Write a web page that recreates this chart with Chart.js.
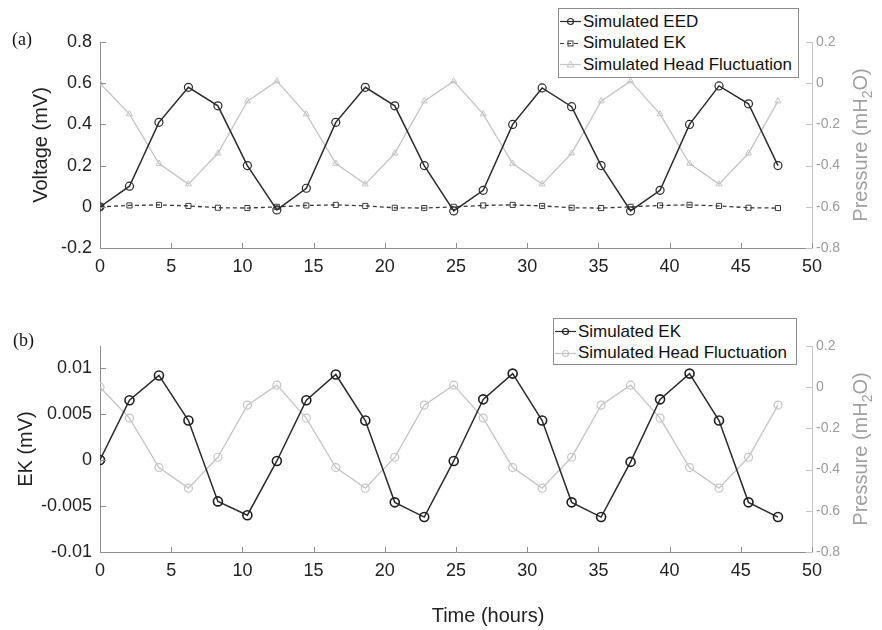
<!DOCTYPE html>
<html>
<head>
<meta charset="utf-8">
<script src="https://cdn.jsdelivr.net/npm/chart.js@4.4.1/dist/chart.umd.min.js"></script>
<style>
  body { margin: 0; background: #fff; font-family: "Liberation Sans", Arial, sans-serif; }
  #page { position: relative; width: 882px; height: 630px; overflow: hidden; }
  canvas { position: absolute; left: 0; }
  .tag { position: absolute; font: 18px/1 "Liberation Serif", "Times New Roman", serif; color: #111; }
  .ytitle2 { position: absolute; font-size: 20px; line-height: 1; color: #a0a0a0; white-space: nowrap;
             transform: translate(-50%, -50%) rotate(-90deg); }
  .ytitle2 sub { font-size: 14px; line-height: 0; }
  .xtitle { position: absolute; font-size: 20px; line-height: 1; color: #222; white-space: nowrap; transform: translateX(-50%); }
  .legend { position: absolute; box-sizing: border-box; border: 1px solid #8c8c8c; background: #fff;
            font-size: 17px; color: #111; padding-top: 2px; }
  .legend .row { height: 21.5px; display: flex; align-items: center; white-space: nowrap; }
  .legend svg { margin: 0 2px 0 1px; flex: none; }
</style>
</head>
<body>
<div id="page">
  <canvas id="chartA" width="882" height="290" style="top:0"></canvas>
  <canvas id="chartB" width="882" height="340" style="top:290px"></canvas>
  <div class="tag" style="left:12px; top:30px">(a)</div>
  <div class="tag" style="left:13px; top:331px">(b)</div>
  <div class="ytitle2" style="left:860px; top:145px">Pressure (mH<sub>2</sub>O)</div>
  <div class="ytitle2" style="left:860px; top:449px">Pressure (mH<sub>2</sub>O)</div>
  <div class="xtitle" style="left:488px; top:605px">Time (hours)</div>
  <div class="legend" id="legendA" style="left:558px; top:8px; width:241px; height:70px"></div>
  <div class="legend" id="legendB" style="left:553px; top:318px; width:244px; height:47px"></div>
</div>
<script>
// sample times (hours) and simulated series
const TIME = [0, 2.07, 4.14, 6.21, 8.28, 10.35, 12.42, 14.49, 16.56, 18.63, 20.7, 22.77,
  24.84, 26.91, 28.98, 31.05, 33.12, 35.19, 37.26, 39.33, 41.4, 43.47, 45.54, 47.61];
const EED = [0, 0.1, 0.41, 0.58, 0.49, 0.2, -0.015, 0.09, 0.41, 0.58, 0.49, 0.2,
  -0.02, 0.08, 0.4, 0.577, 0.486, 0.2, -0.02, 0.08, 0.4, 0.587, 0.5, 0.2];
const EK = [0, 0.0065, 0.0092, 0.0043, -0.0045, -0.006, -0.0001, 0.0065, 0.0093, 0.0043, -0.0046, -0.0062,
  -0.0001, 0.0066, 0.0094, 0.0043, -0.0046, -0.0062, -0.0002, 0.0066, 0.0094, 0.0043, -0.0046, -0.0062];
const HEAD = [0, -0.15, -0.39, -0.49, -0.34, -0.087, 0.01, -0.15, -0.39, -0.49, -0.34, -0.087,
  0.01, -0.15, -0.39, -0.49, -0.34, -0.087, 0.01, -0.15, -0.39, -0.49, -0.34, -0.087];

const X_TICKS = [0, 5, 10, 15, 20, 25, 30, 35, 40, 45, 50];
const VOLT_TICKS = [-0.2, 0, 0.2, 0.4, 0.6, 0.8];
const EK_TICKS = [-0.01, -0.005, 0, 0.005, 0.01];
const PRESSURE_TICKS = [-0.8, -0.6, -0.4, -0.2, 0, 0.2];

const AXIS = '#8f8f8f';
const AXIS2 = '#c4c4c4';
const TXT = '#222';
const TXT2 = '#9a9a9a';
const DARK = '#2b2b2b';
const LIGHT = '#c4c4c4';

Chart.defaults.font.family = '"Liberation Sans", Arial, sans-serif';

function pts(ys) {
  return TIME.map((t, i) => ({ x: t, y: ys[i] }));
}

function fixedTicks(values) {
  return (scale) => { scale.ticks = values.map((v) => ({ value: v })); };
}

function fmt(v) {
  return String(Number(Number(v).toFixed(4)));
}

// MATLAB-style tick marks pointing into the plot
const inwardTicks = {
  id: 'inwardTicks',
  afterDatasetsDraw(chart) {
    const { ctx, chartArea: a } = chart;
    ctx.save();
    ctx.lineWidth = 1;
    Object.values(chart.scales).forEach((s) => {
      ctx.strokeStyle = s.options.border.color;
      ctx.beginPath();
      s.ticks.forEach((t) => {
        const p = Math.round(s.getPixelForValue(t.value)) + 0.5;
        if (s.isHorizontal()) {
          ctx.moveTo(p, a.bottom); ctx.lineTo(p, a.bottom - 5);
        } else if (s.position === 'left') {
          ctx.moveTo(a.left, p); ctx.lineTo(a.left + 6, p);
        } else {
          ctx.moveTo(a.right, p); ctx.lineTo(a.right - 6, p);
        }
      });
      ctx.stroke();
    });
    ctx.restore();
  },
};

function scalesFor(leftTicks, leftTitle, titlePad, xHeight) {
  return {
    x: {
      type: 'linear', position: 'bottom', min: 0, max: 50,
      afterBuildTicks: fixedTicks(X_TICKS),
      afterFit: (s) => { s.height = xHeight; },
      grid: { display: false, drawTicks: false },
      border: { color: AXIS },
      ticks: { color: TXT, font: { size: 18 }, padding: 8, maxRotation: 0, autoSkip: false, callback: fmt },
    },
    y: {
      type: 'linear', position: 'left',
      min: leftTicks.min, max: leftTicks.max,
      afterBuildTicks: fixedTicks(leftTicks.values),
      afterFit: (s) => { s.width = 100; },
      grid: { display: false, drawTicks: false },
      border: { color: AXIS },
      ticks: { color: TXT, font: { size: 18 }, padding: 8, autoSkip: false, callback: fmt },
      title: { display: true, text: leftTitle, color: TXT, font: { size: 20 }, padding: { top: titlePad } },
    },
    y2: {
      type: 'linear', position: 'right', min: -0.8, max: 0.2,
      afterBuildTicks: fixedTicks(PRESSURE_TICKS),
      afterFit: (s) => { s.width = 70; },
      grid: { display: false, drawTicks: false },
      border: { color: AXIS2 },
      ticks: { color: TXT2, font: { size: 14 }, padding: 4, autoSkip: false, callback: fmt },
    },
  };
}

const datasetsA = [
  {
    label: 'Simulated EED', data: pts(EED), yAxisID: 'y', order: 1,
    borderColor: DARK, borderWidth: 1.5,
    pointStyle: 'circle', pointRadius: 4, pointBorderColor: DARK, pointBorderWidth: 1.2,
    pointBackgroundColor: 'rgba(0,0,0,0)',
  },
  {
    label: 'Simulated EK', data: pts(EK), yAxisID: 'y', order: 2,
    borderColor: '#3a3a3a', borderWidth: 1.3, borderDash: [4, 3],
    pointStyle: 'rect', pointRadius: 3.6, pointBorderColor: '#3a3a3a', pointBorderWidth: 1,
    pointBackgroundColor: 'rgba(0,0,0,0)',
  },
  {
    label: 'Simulated Head Fluctuation', data: pts(HEAD), yAxisID: 'y2', order: 3,
    borderColor: LIGHT, borderWidth: 1.3,
    pointStyle: 'triangle', pointRadius: 3.5, pointBorderColor: LIGHT, pointBorderWidth: 1,
    pointBackgroundColor: 'rgba(0,0,0,0)',
  },
];

const datasetsB = [
  {
    label: 'Simulated EK', data: pts(EK), yAxisID: 'y', order: 1,
    borderColor: DARK, borderWidth: 1.5,
    pointStyle: 'circle', pointRadius: 4.5, pointBorderColor: '#1e1e1e', pointBorderWidth: 1.6,
    pointBackgroundColor: 'rgba(0,0,0,0)',
  },
  {
    label: 'Simulated Head Fluctuation', data: pts(HEAD), yAxisID: 'y2', order: 2,
    borderColor: LIGHT, borderWidth: 1.3,
    pointStyle: 'circle', pointRadius: 4, pointBorderColor: LIGHT, pointBorderWidth: 1.2,
    pointBackgroundColor: 'rgba(0,0,0,0)',
  },
];

function makeChart(id, datasets, leftTicks, leftTitle, titlePad, top, xHeight) {
  return new Chart(document.getElementById(id), {
    type: 'line',
    data: { datasets },
    options: {
      responsive: false,
      animation: false,
      layout: { padding: { top, left: 0, right: 0, bottom: 0 } },
      plugins: { legend: { display: false }, tooltip: { enabled: false } },
      elements: { line: { tension: 0 } },
      scales: scalesFor(leftTicks, leftTitle, titlePad, xHeight),
    },
    plugins: [inwardTicks],
  });
}

makeChart('chartA', datasetsA, { min: -0.2, max: 0.8, values: VOLT_TICKS }, 'Voltage (mV)', 29, 42, 42);
makeChart('chartB', datasetsB, { min: -0.01, max: 0.0124, values: EK_TICKS }, 'EK (mV)', 14, 56, 78);

// legend boxes built from the dataset styles
function marker(style, color) {
  if (style === 'rect') return `<rect x="8" y="7" width="5" height="5" fill="none" stroke="${color}" stroke-width="1"/>`;
  if (style === 'triangle') return `<path d="M10.5 6 L14 12 L7 12 Z" fill="none" stroke="${color}" stroke-width="1"/>`;
  return `<circle cx="10.5" cy="9.5" r="3" fill="none" stroke="${color}" stroke-width="1.2"/>`;
}

function buildLegend(elId, datasets) {
  const el = document.getElementById(elId);
  el.innerHTML = datasets.map((d) => {
    const dash = d.borderDash ? `stroke-dasharray="${d.borderDash.join(' ')}"` : '';
    return `<div class="row"><svg width="21" height="19">` +
      `<line x1="0" y1="9.5" x2="21" y2="9.5" stroke="${d.borderColor}" stroke-width="1.2" ${dash}/>` +
      marker(d.pointStyle, d.pointBorderColor) +
      `</svg><span>${d.label}</span></div>`;
  }).join('');
}

buildLegend('legendA', datasetsA);
buildLegend('legendB', datasetsB);
</script>
</body>
</html>
